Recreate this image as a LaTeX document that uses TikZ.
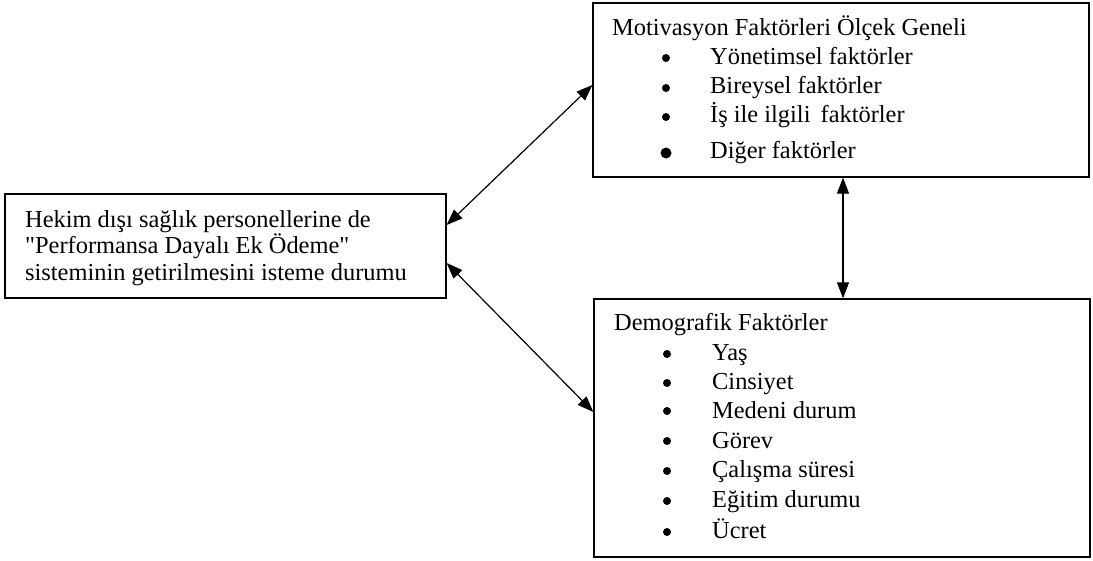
\documentclass[tikz,border=0pt]{standalone}
\usepackage{fontspec}
\newfontfamily\trf{Liberation Serif}
\usetikzlibrary{arrows.meta}
\begin{document}
\begin{tikzpicture}[x=1pt,y=-1pt,
  box/.style={draw=black,line width=1.3pt,inner sep=0pt,fill=none},
  txt/.style={anchor=base west,inner sep=0pt,font=\trf\fontsize{24.4}{26}\selectfont},
  bul/.style={circle,fill=black,draw=none,inner sep=0pt,minimum size=8pt},
  bigbul/.style={circle,fill=black,draw=none,inner sep=0pt,minimum size=11pt},
  arr/.style={line width=1.2pt,{Triangle[length=16pt,width=12pt]}-{Triangle[length=16pt,width=12pt]}}]
\useasboundingbox (0,0) rectangle (1093,561);
% boxes
\node[box,minimum width=441pt,minimum height=104pt] (L) at (225.5,246) {};
\node[box,minimum width=496pt,minimum height=174pt] (T) at (841,90) {};
\node[box,minimum width=496pt,minimum height=258pt] (B) at (842,428) {};
% left text
\node[txt] (l1) at (25,228) {Hekim dışı sağlık personellerine de};
\node[txt] (l2) at (25,254) {"Performansa Dayalı Ek Ödeme"};
\node[txt] (l3) at (25,280.5) {sisteminin getirilmesini isteme durumu};
% top text
\node[txt] (t0) at (612,36) {Motivasyon Faktörleri Ölçek Geneli};
\node[bul] (tb1) at (666,58) {};
\node[txt] (t1) at (710,65) {Yönetimsel faktörler};
\node[bul] (tb2) at (666,88) {};
\node[txt] (t2) at (710,94) {Bireysel faktörler};
\node[bul] (tb3) at (666,117) {};
\node[txt] (t3) at (710,123) {İş ile ilgili\, faktörler};
\node[bigbul] (tb4) at (666,153) {};
\node[txt] (t4) at (710,159) {Diğer faktörler};
% bottom text
\node[txt] (b0) at (614,330.5) {Demografik Faktörler};
\node[bul] (bb1) at (667,354) {};
\node[txt] (b1) at (712,361) {Yaş};
\node[bul] (bb2) at (667,383) {};
\node[txt] (b2) at (712,390) {Cinsiyet};
\node[bul] (bb3) at (667,411) {};
\node[txt] (b3) at (712,418) {Medeni durum};
\node[bul] (bb4) at (667,441) {};
\node[txt] (b4) at (712,448) {Görev};
\node[bul] (bb5) at (667,471) {};
\node[txt] (b5) at (712,477) {Çalışma süresi};
\node[bul] (bb6) at (667,501) {};
\node[txt] (b6) at (712,507) {Eğitim durumu};
\node[bul] (bb7) at (667,532) {};
\node[txt] (b7) at (712,538) {Ücret};
% arrows
\draw[arr] (L.east |- 0,225) -- (T.west |- 0,85);
\draw[arr] (L.east |- 0,263) -- (B.west |- 0,412);
\draw[arr] (T.south -| 843,0) -- (B.north -| 843,0);
\end{tikzpicture}
\end{document}
